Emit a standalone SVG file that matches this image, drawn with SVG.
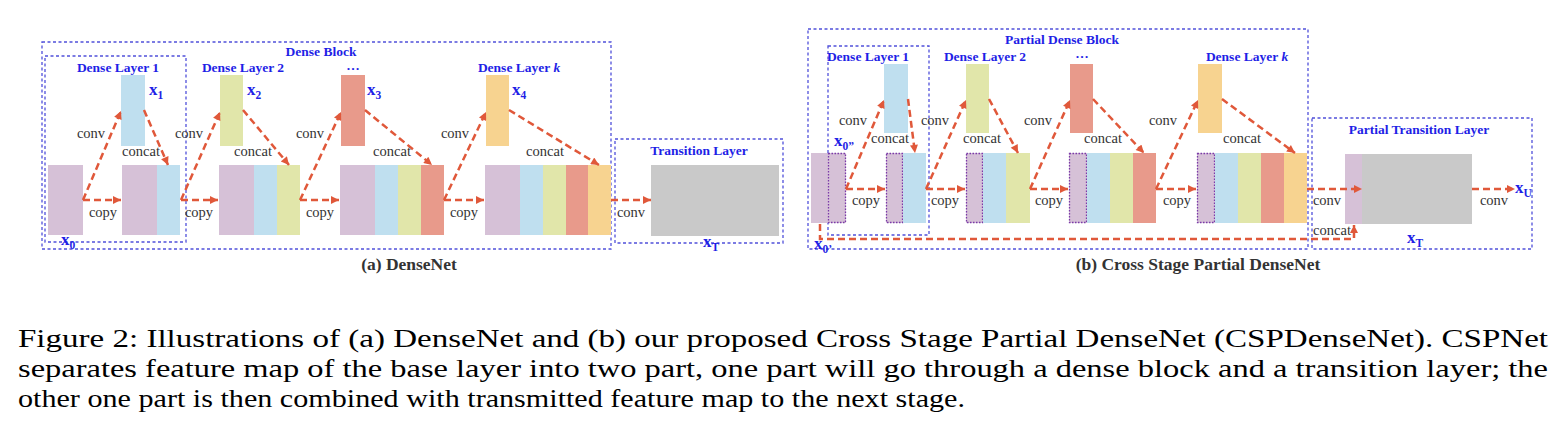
<svg xmlns="http://www.w3.org/2000/svg" width="1566" height="439" viewBox="0 0 1566 439">
<style>
text{font-family:"Liberation Serif","Times New Roman",Times,Tinos,"Nimbus Roman",serif}
.lbl{font-weight:bold;fill:#1f1fe6;font-size:13.5px;text-anchor:middle}
.op{fill:#333;font-size:14.5px;text-anchor:middle}
.xv{font-weight:bold;fill:#1f1fe6;font-size:17px}
.sub{font-size:11.5px}
.box{fill:none;stroke:#5050da;stroke-width:1.3;stroke-dasharray:3,2.5}
.arr{stroke:#e0583a;stroke-width:2.5;stroke-dasharray:7,4;fill:none;marker-end:url(#ah)}
.pu{fill:#d6c1d7}.bl{fill:#bfdfef}.gr{fill:#e1e6aa}.rd{fill:#e89a8b}.or{fill:#f7d390}.gy{fill:#c9c9c9}
.dot{fill:none;stroke:#7a3aa8;stroke-width:1.3;stroke-dasharray:1.5,1.5}
.cap{fill:#000;font-size:26px}
.title{font-weight:bold;fill:#333;font-size:17.5px;text-anchor:middle}
</style>
<defs>
<marker id="ah" viewBox="0 0 10 10" refX="10" refY="5" markerWidth="10" markerHeight="8" markerUnits="userSpaceOnUse" orient="auto">
<path d="M0,0 L10,5 L0,10 z" fill="#e0583a"/>
</marker>
</defs>
<rect width="1566" height="439" fill="#fff"/>

<!-- (a) DenseNet -->
<g id="a-dense-block"><rect class="box" x="42" y="42" width="569" height="207"/><text class="lbl" x="321" y="56">Dense Block</text></g>
<g id="a-dense-layer-1"><rect class="box" x="45" y="56" width="141" height="186"/><text class="lbl" x="118" y="72">Dense Layer 1</text></g>
<g id="a-dense-layer-2-label"><text class="lbl" x="243" y="72">Dense Layer 2</text></g>
<g id="a-dots-label"><text class="lbl" x="353" y="70">…</text></g>
<g id="a-dense-layer-k-label"><text class="lbl" x="519" y="72">Dense Layer <tspan font-style="italic">k</tspan></text></g>
<g id="a-transition-layer"><rect class="box" x="615" y="139" width="168" height="104"/><text class="lbl" x="699" y="155">Transition Layer</text></g>

<g id="a-x0"><rect class="pu" x="48" y="165" width="35" height="70"/><text class="xv" x="61" y="245">x<tspan class="sub" dy="4">0</tspan></text></g>
<g id="a-x1"><rect class="bl" x="121" y="75" width="24" height="71"/><text class="xv" x="149" y="95">x<tspan class="sub" dy="4">1</tspan></text></g>
<g id="a-c1"><rect class="pu" x="122" y="165" width="35" height="70"/><rect class="bl" x="157" y="165" width="23" height="70"/></g>
<g id="a-x2"><rect class="gr" x="220" y="75" width="23" height="71"/><text class="xv" x="247" y="95">x<tspan class="sub" dy="4">2</tspan></text></g>
<g id="a-c2"><rect class="pu" x="219" y="165" width="35" height="70"/><rect class="bl" x="254" y="165" width="23" height="70"/><rect class="gr" x="277" y="165" width="23" height="70"/></g>
<g id="a-x3"><rect class="rd" x="341" y="75" width="24" height="71"/><text class="xv" x="367" y="95">x<tspan class="sub" dy="4">3</tspan></text></g>
<g id="a-c3"><rect class="pu" x="340" y="165" width="35" height="70"/><rect class="bl" x="375" y="165" width="23" height="70"/><rect class="gr" x="398" y="165" width="23" height="70"/><rect class="rd" x="421" y="165" width="23" height="70"/></g>
<g id="a-x4"><rect class="or" x="486" y="75" width="23" height="71"/><text class="xv" x="512" y="95">x<tspan class="sub" dy="4">4</tspan></text></g>
<g id="a-c4"><rect class="pu" x="485" y="165" width="35" height="70"/><rect class="bl" x="520" y="165" width="23" height="70"/><rect class="gr" x="543" y="165" width="23" height="70"/><rect class="rd" x="566" y="165" width="22" height="70"/><rect class="or" x="588" y="165" width="23" height="70"/></g>
<g id="a-xT"><rect class="gy" x="651" y="165" width="128" height="71"/><text class="xv" x="703" y="247">x<tspan class="sub" dy="4">T</tspan></text></g>

<!-- (b) CSPDenseNet -->
<g id="b-partial-dense-block"><rect class="box" x="808" y="29" width="500" height="220"/><text class="lbl" x="1062" y="44">Partial Dense Block</text></g>
<g id="b-dense-layer-1"><rect class="box" x="828" y="46" width="101" height="189"/><text class="lbl" x="868" y="61">Dense Layer 1</text></g>
<g id="b-dense-layer-2-label"><text class="lbl" x="985" y="61">Dense Layer 2</text></g>
<g id="b-dots-label"><text class="lbl" x="1082" y="58">…</text></g>
<g id="b-dense-layer-k-label"><text class="lbl" x="1247" y="61">Dense Layer <tspan font-style="italic">k</tspan></text></g>
<g id="b-partial-transition-layer"><rect class="box" x="1312" y="118" width="220" height="131"/><text class="lbl" x="1419" y="134">Partial Transition Layer</text></g>

<g id="b-x0"><rect class="pu" x="811" y="153" width="35" height="70"/><rect class="dot" x="828.5" y="153.5" width="17" height="69"/>
<text class="xv" x="834" y="146">x<tspan class="sub" dy="4">0”</tspan></text><text class="xv" x="814" y="249">x<tspan class="sub" dy="4">0’</tspan></text></g>
<g id="b-x1"><rect class="bl" x="884" y="64" width="24" height="69"/></g>
<g id="b-c1"><rect class="pu" x="886" y="153" width="17" height="70"/><rect class="dot" x="886.5" y="153.5" width="16" height="69"/><rect class="bl" x="903" y="153" width="23" height="70"/></g>
<g id="b-x2"><rect class="gr" x="966" y="64" width="23" height="69"/></g>
<g id="b-c2"><rect class="pu" x="966" y="153" width="17" height="70"/><rect class="dot" x="966.5" y="153.5" width="16" height="69"/><rect class="bl" x="983" y="153" width="23" height="70"/><rect class="gr" x="1006" y="153" width="24" height="70"/></g>
<g id="b-x3"><rect class="rd" x="1070" y="64" width="23" height="69"/></g>
<g id="b-c3"><rect class="pu" x="1069" y="153" width="18" height="70"/><rect class="dot" x="1069.5" y="153.5" width="17" height="69"/><rect class="bl" x="1087" y="153" width="23" height="70"/><rect class="gr" x="1110" y="153" width="23" height="70"/><rect class="rd" x="1133" y="153" width="23" height="70"/></g>
<g id="b-x4"><rect class="or" x="1198" y="64" width="24" height="69"/></g>
<g id="b-c4"><rect class="pu" x="1197" y="153" width="18" height="70"/><rect class="dot" x="1197.5" y="153.5" width="17" height="69"/><rect class="bl" x="1215" y="153" width="23" height="70"/><rect class="gr" x="1238" y="153" width="23" height="70"/><rect class="rd" x="1261" y="153" width="23" height="70"/><rect class="or" x="1284" y="153" width="23" height="70"/></g>
<g id="b-xT"><rect class="pu" x="1345" y="154" width="17" height="70"/><rect class="gy" x="1362" y="154" width="110" height="70"/><text class="xv" x="1407" y="243">x<tspan class="sub" dy="4">T</tspan></text></g>
<g id="b-xU"><text class="xv" x="1515" y="193">x<tspan class="sub" dy="4">U</tspan></text></g>

<!-- connectors -->
<g id="connectors">
<path class="arr" d="M83,200 L121,111"/><path class="arr" d="M83,200 L121,200"/><path class="arr" d="M144,110 L168,165"/>
<path class="arr" d="M181,200 L220,112"/><path class="arr" d="M181,200 L218,200"/><path class="arr" d="M243,110 L289,165"/>
<path class="arr" d="M300,200 L341,112"/><path class="arr" d="M300,200 L339,200"/><path class="arr" d="M365,110 L432,165"/>
<path class="arr" d="M444,200 L486,112"/><path class="arr" d="M444,200 L484,200"/><path class="arr" d="M509,110 L599,165"/>
<path class="arr" d="M611,200 L651,200"/>

<path class="arr" d="M846,189 L884,100"/><path class="arr" d="M846,189 L885,189"/><path class="arr" d="M908,99 L915,153"/>
<path class="arr" d="M926,189 L966,100"/><path class="arr" d="M926,189 L965,189"/><path class="arr" d="M989,99 L1018,153"/>
<path class="arr" d="M1030,189 L1070,100"/><path class="arr" d="M1030,189 L1068,189"/><path class="arr" d="M1093,99 L1144,153"/>
<path class="arr" d="M1156,189 L1198,100"/><path class="arr" d="M1156,189 L1196,189"/><path class="arr" d="M1222,99 L1295,153"/>
<path class="arr" d="M1307,189 L1362,189"/>
<path class="arr" d="M1472,189 L1515,189"/>
<path class="arr" d="M820,224 V239 H1354 V225"/>

<text class="op" x="91" y="138">conv</text><text class="op" x="103" y="217">copy</text><text class="op" x="141" y="156">concat</text>
<text class="op" x="189" y="138">conv</text><text class="op" x="199" y="217">copy</text><text class="op" x="253" y="156">concat</text>
<text class="op" x="310" y="138">conv</text><text class="op" x="320" y="217">copy</text><text class="op" x="392" y="156">concat</text>
<text class="op" x="455" y="138">conv</text><text class="op" x="464" y="217">copy</text><text class="op" x="545" y="156">concat</text>
<text class="op" x="631" y="217">conv</text>

<text class="op" x="853" y="125">conv</text><text class="op" x="866" y="205">copy</text><text class="op" x="890" y="143">concat</text>
<text class="op" x="935" y="125">conv</text><text class="op" x="945" y="205">copy</text><text class="op" x="982" y="143">concat</text>
<text class="op" x="1038" y="125">conv</text><text class="op" x="1049" y="205">copy</text><text class="op" x="1103" y="143">concat</text>
<text class="op" x="1163" y="125">conv</text><text class="op" x="1177" y="205">copy</text><text class="op" x="1242" y="143">concat</text>
<text class="op" x="1327" y="205">conv</text><text class="op" x="1332" y="235">concat</text><text class="op" x="1494" y="205">conv</text>
</g>

<text class="title" x="409" y="270">(a) DenseNet</text>
<text class="title" x="1198" y="270">(b) Cross Stage Partial DenseNet</text>

<text class="cap" x="18" y="347" textLength="1530" lengthAdjust="spacingAndGlyphs">Figure 2: Illustrations of (a) DenseNet and (b) our proposed Cross Stage Partial DenseNet (CSPDenseNet). CSPNet</text>
<text class="cap" x="18" y="377" textLength="1530" lengthAdjust="spacingAndGlyphs">separates feature map of the base layer into two part, one part will go through a dense block and a transition layer; the</text>
<text class="cap" x="18" y="407" textLength="947" lengthAdjust="spacingAndGlyphs">other one part is then combined with transmitted feature map to the next stage.</text>
</svg>
